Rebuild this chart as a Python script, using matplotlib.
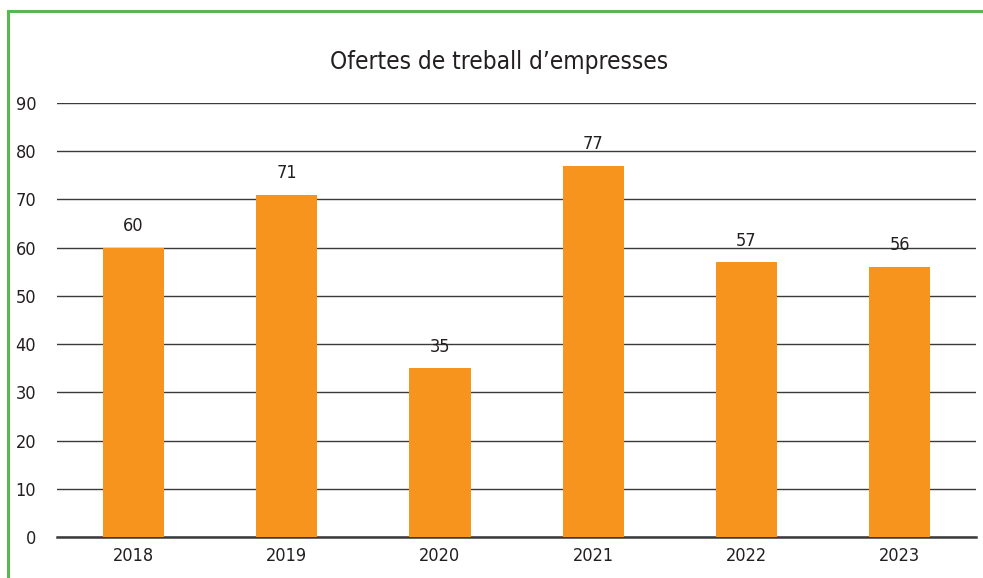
import matplotlib.pyplot as plt
from matplotlib.patches import Rectangle

years = ['2018', '2019', '2020', '2021', '2022', '2023']
ofertes = [60, 71, 35, 77, 57, 56]
yticks = [0, 10, 20, 30, 40, 50, 60, 70, 80, 90]

# DejaVu Sans Condensed, per acostar-nos a la lletra estreta de l'original
plt.rcParams['font.family'] = ['DejaVu Sans']
plt.rcParams['font.stretch'] = 'condensed'

fig = plt.figure(figsize=(9.83, 5.78), dpi=100)
ax = fig.add_axes([0.058, 0.071, 0.935, 0.751])

# vora verda (només es veuen el costat de dalt i l'esquerre)
fig.patches.append(Rectangle((8/983, -0.1), 2, 1.1 - 11/578,
                             transform=fig.transFigure, fill=False,
                             edgecolor='#5ab552', linewidth=2.2))

x = range(len(years))
ax.bar(x, ofertes, width=0.4, color='#f7941d', zorder=3)
for i, v in enumerate(ofertes):
    ax.annotate(str(v), (i, v), xytext=(0, 9), textcoords='offset points',
                ha='center', va='bottom', fontsize=13, color='#231f20')

ax.set_xlim(-0.5, len(years) - 0.5)
ax.set_ylim(0, 90)
ax.set_yticks(yticks)
ax.set_xticks(list(x))
ax.set_xticklabels(years)
ax.yaxis.grid(True, color='#3a3a3a', linewidth=1.0, zorder=0)
ax.tick_params(axis='both', length=0, labelsize=13, colors='#231f20')
ax.tick_params(axis='y', pad=15)
ax.tick_params(axis='x', pad=7)
for s in ['top', 'right', 'left']:
    ax.spines[s].set_visible(False)
ax.spines['bottom'].set_color('#3a3a3a')
ax.spines['bottom'].set_linewidth(1.8)

fig.text(0.508, 0.893, "Ofertes de treball d\u2019empresses", ha='center', va='center',
         fontsize=17.5, color='#231f20')

fig.savefig('out.png', dpi=100)
